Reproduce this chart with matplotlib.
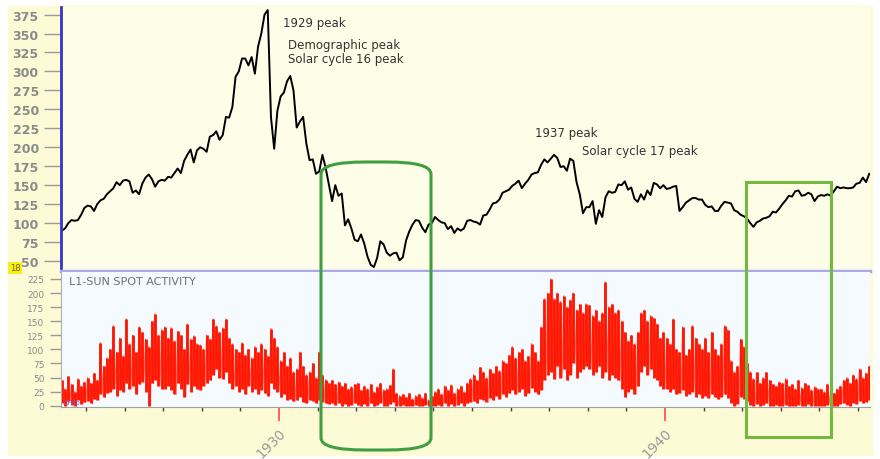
import matplotlib
matplotlib.use("Agg")
import matplotlib.pyplot as plt
from matplotlib.patches import Rectangle, FancyBboxPatch
from matplotlib.transforms import ScaledTranslation

# monthly Dow level, May 1924 .. Apr 1945
dow = [
    90, 93, 100, 104, 103, 104, 111, 120,
    123, 122, 116, 125, 130, 132, 138, 142, 146, 154, 150, 156,
    157, 155, 140, 143, 138, 152, 160, 164, 158, 148, 155, 157,
    156, 161, 160, 166, 172, 166, 182, 190, 197, 180, 196, 200,
    198, 194, 214, 216, 221, 210, 216, 240, 239, 253, 293, 300,
    317, 317, 308, 319, 297, 333, 350, 375, 381, 240, 198, 248,
    267, 272, 287, 294, 275, 226, 234, 240, 205, 183, 184, 165,
    168, 190, 173, 151, 129, 150, 136, 139, 97, 105, 93, 78,
    76, 85, 73, 56, 45, 42, 54, 76, 72, 61, 57, 60,
    61, 51, 55, 77, 89, 98, 104, 103, 94, 88, 98, 100,
    108, 104, 101, 100, 92, 96, 87, 93, 90, 93, 103, 104,
    102, 101, 98, 110, 111, 118, 126, 127, 131, 140, 142, 144,
    149, 152, 156, 146, 152, 157, 164, 166, 167, 177, 184, 180,
    185, 190, 186, 174, 175, 169, 185, 182, 154, 138, 113, 121,
    121, 129, 99, 117, 108, 134, 142, 140, 141, 151, 150, 155,
    144, 147, 132, 128, 138, 131, 143, 137, 153, 151, 146, 150,
    145, 146, 148, 149, 116, 121, 127, 130, 133, 133, 131, 131,
    124, 121, 122, 116, 116, 123, 128, 127, 126, 117, 115, 111,
    109, 106, 100, 95, 101, 103, 106, 107, 109, 115, 114, 119,
    125, 130, 136, 135, 142, 143, 136, 137, 140, 138, 129, 135,
    137, 136, 138, 136, 142, 148, 146, 147, 146, 146, 147, 152,
    153, 160, 154, 165,
]

# monthly sunspot spike tops
spot_hi = [
    45, 30, 52, 38, 25, 48, 35, 42,
    50, 40, 58, 45, 112, 70, 85, 100, 142, 95, 120, 88,
    154, 110, 125, 95, 140, 130, 118, 105, 150, 163, 125, 135,
    140, 120, 138, 115, 132, 125, 100, 145, 118, 124, 110, 108,
    100, 125, 118, 154, 142, 130, 138, 154, 120, 110, 100, 95,
    112, 90, 100, 85, 105, 95, 110, 100, 88, 137, 120, 105,
    80, 95, 70, 85, 60, 65, 95, 70, 55, 60, 75, 50,
    95, 55, 46, 40, 45, 38, 42, 35, 40, 30, 34, 38,
    40, 28, 35, 30, 38, 25, 34, 40, 28, 30, 36, 65,
    22, 18, 20, 15, 22, 12, 18, 20, 14, 22, 10, 18,
    25, 30, 20, 35, 28, 37, 22, 30, 35, 25, 40, 48,
    55, 45, 68, 60, 50, 65, 58, 70, 62, 80, 75, 90,
    105, 85, 95, 100, 80, 88, 110, 95, 80, 140, 190, 200,
    225, 190, 200, 185, 195, 175, 188, 200, 170, 180, 165, 181,
    178, 160, 170, 150, 165, 219, 175, 180, 165, 170, 150, 130,
    115, 125, 110, 130, 165, 170, 150, 160, 155, 145, 120, 130,
    120, 110, 154, 100, 95, 140, 90, 100, 142, 120, 110, 100,
    120, 95, 130, 100, 90, 110, 142, 135, 80, 60, 70, 118,
    105, 75, 60, 48, 59, 40, 50, 59, 45, 38, 35, 42,
    40, 48, 35, 38, 30, 45, 32, 40, 36, 28, 34, 30,
    30, 25, 38, 28, 22, 30, 35, 45, 50, 40, 55, 48,
    65, 50, 58, 70,
]

# monthly sunspot spike bottoms
spot_lo = [
    5, 0, 8, 2, 0, 10, 3, 6,
    8, 4, 12, 10, 20, 15, 22, 25, 30, 18, 28, 25,
    40, 30, 35, 20, 38, 42, 25, 0, 40, 45, 35, 30,
    30, 35, 28, 20, 40, 30, 15, 38, 25, 35, 30, 28,
    35, 40, 45, 55, 65, 50, 48, 60, 40, 30, 35, 25,
    30, 20, 35, 25, 30, 20, 28, 22, 18, 40, 30, 25,
    15, 20, 10, 12, 8, 10, 15, 6, 5, 10, 8, 4,
    10, 6, 4, 3, 5, 2, 4, 0, 3, 0, 2, 4,
    2, 0, 3, 0, 4, 0, 2, 5, 0, 0, 3, 6,
    0, 0, 2, 0, 0, 0, 1, 0, 0, 2, 0, 0,
    0, 2, 0, 4, 0, 3, 0, 2, 5, 0, 4, 6,
    8, 5, 12, 10, 6, 14, 10, 18, 12, 20, 16, 22,
    28, 20, 25, 30, 18, 22, 32, 25, 20, 28, 45, 55,
    60, 47, 70, 50, 65, 45, 55, 75, 50, 60, 65, 70,
    65, 55, 60, 70, 50, 60, 45, 55, 50, 45, 30, 15,
    25, 30, 20, 35, 60, 70, 55, 65, 50, 45, 35, 30,
    30, 25, 30, 20, 22, 28, 18, 20, 25, 15, 20, 14,
    18, 14, 20, 15, 12, 16, 20, 14, 5, 0, 3, 15,
    12, 8, 2, 0, 3, 0, 2, 4, 0, 0, 2, 0,
    0, 2, 0, 0, 0, 2, 0, 0, 3, 0, 0, 0,
    0, 0, 2, 0, 0, 0, 3, 4, 2, 0, 5, 3,
    8, 5, 6, 10,
]

labeled_years = [1930, 1940]
all_years = list(range(1925, 1946))

notes = [
    ("1929 peak", 283, 23),
    ("Demographic peak", 288, 45),
    ("Solar cycle 16 peak", 288, 60),
    ("1937 peak", 535, 133),
    ("Solar cycle 17 peak", 582, 151),
]

# month centres as decimal years
t = [1924 + (4 + i + 0.5) / 12 for i in range(len(dow))]

# zigzag path through spike tops and bottoms (top at month centre,
# bottom half a month later)
zig_t, zig_v = [], []
for tm, hi, lo in zip(t, spot_hi, spot_lo):
    zig_t += [tm, tm + 1 / 24]
    zig_v += [hi, lo]

W, H = 880, 460
fig = plt.figure(figsize=(W / 100, H / 100), dpi=100, facecolor="white")


def fx(px):
    return px / W


def fy(py):
    return 1 - py / H


# pale yellow panel behind everything
fig.patches.append(Rectangle((fx(8), fy(456)), fx(864), (456 - 7) / H,
                             transform=fig.transFigure, color="#fcfbd6",
                             zorder=-5))

x0, x1 = 61, 870
ax1 = fig.add_axes([fx(x0), fy(272), fx(x1 - x0), (272 - 8) / H])
ax2 = fig.add_axes([fx(x0), fy(408), fx(x1 - x0), (408 - 273) / H])

xlim = (1930 - (279 - x0) / 38.6, 1930 + (x1 - 279) / 38.6)

# top: stock index
ax1.set_facecolor("#fefee8")
ax1.plot(t, dow, color="black", lw=1.4)
ax1.set_xlim(*xlim)
ax1.set_ylim(36.8, 385)
ax1.set_xticks([])
ax1.set_yticks(range(50, 376, 25))
ax1.tick_params(axis="y", direction="out", length=12, width=1, pad=4,
                color="#9a9a9a", labelcolor="#8a8a8a", labelsize=9)
for lbl in ax1.get_yticklabels():
    lbl.set_fontweight("bold")
for s in ["top", "right"]:
    ax1.spines[s].set_visible(False)
ax1.spines["left"].set_color("#3434c8")
ax1.spines["left"].set_linewidth(2)
ax1.spines["bottom"].set_color("#aaaaea")
ax1.spines["bottom"].set_linewidth(2.5)

for txt, px, py in notes:
    fig.text(fx(px), fy(py), txt, fontsize=8.5, color="#333333",
             ha="left", va="center")

# bottom: sunspots
ax2.set_facecolor("#f5faff")
ax2.plot(zig_t, zig_v, color="#ff6a5a", lw=0.9)
ax2.vlines(t, spot_lo, spot_hi, color="#ff1500", lw=2.0)
ax2.set_xlim(*xlim)
ax2.set_ylim(-2.3, 237.4)
ax2.set_yticks(range(0, 226, 25))
ax2.tick_params(axis="y", direction="out", length=8, width=1, pad=4,
                color="#9a9a9a", labelcolor="#8a8a8a", labelsize=6.5)
ax2.set_xticks(labeled_years)
ax2.set_xticklabels([str(y) for y in labeled_years], rotation=45,
                    fontsize=10, color="#9a9a9a")
ax2.set_xticks(all_years, minor=True)
ax2.tick_params(axis="x", which="major", direction="out", length=10,
                width=1.2, color="#ff4a4a", pad=1)
ax2.tick_params(axis="x", which="minor", direction="out", length=3,
                width=1, color="#444444")
for lbl in ax2.get_xticklabels():
    lbl.set_transform(lbl.get_transform() +
                      ScaledTranslation(-0.08, -0.03, fig.dpi_scale_trans))
for s in ["top", "right"]:
    ax2.spines[s].set_visible(False)
ax2.spines["left"].set_color("#b0b0b0")
ax2.spines["bottom"].set_color("#a0a0a0")
ax2.text(0.01, 0.93, "L1-SUN SPOT ACTIVITY", transform=ax2.transAxes,
         fontsize=8, color="#707070", ha="left", va="center")
ax2.text(0.003, 0.04, "1Feb", transform=ax2.transAxes, fontsize=5,
         color="#6a5ad0", ha="left", va="center")

fig.text(fx(15), fy(269), "18", fontsize=6, color="#806000",
         ha="center", va="center",
         bbox=dict(boxstyle="square,pad=0.15", fc="#f4ee20", ec="none"))

# highlight boxes
fig.patches.append(FancyBboxPatch(
    (fx(321), fy(451)), fx(431 - 321), (451 - 163) / H,
    boxstyle="round,pad=0,rounding_size=0.05", mutation_aspect=H / W,
    transform=fig.transFigure, fill=False, ec="#3f9e3f", lw=2.2, zorder=10))
fig.patches.append(Rectangle(
    (fx(746), fy(438)), fx(831 - 746), (438 - 183) / H,
    transform=fig.transFigure, fill=False, ec="#72ba3e", lw=2.2, zorder=10))

fig.savefig("out.png", dpi=100, facecolor=fig.get_facecolor())
